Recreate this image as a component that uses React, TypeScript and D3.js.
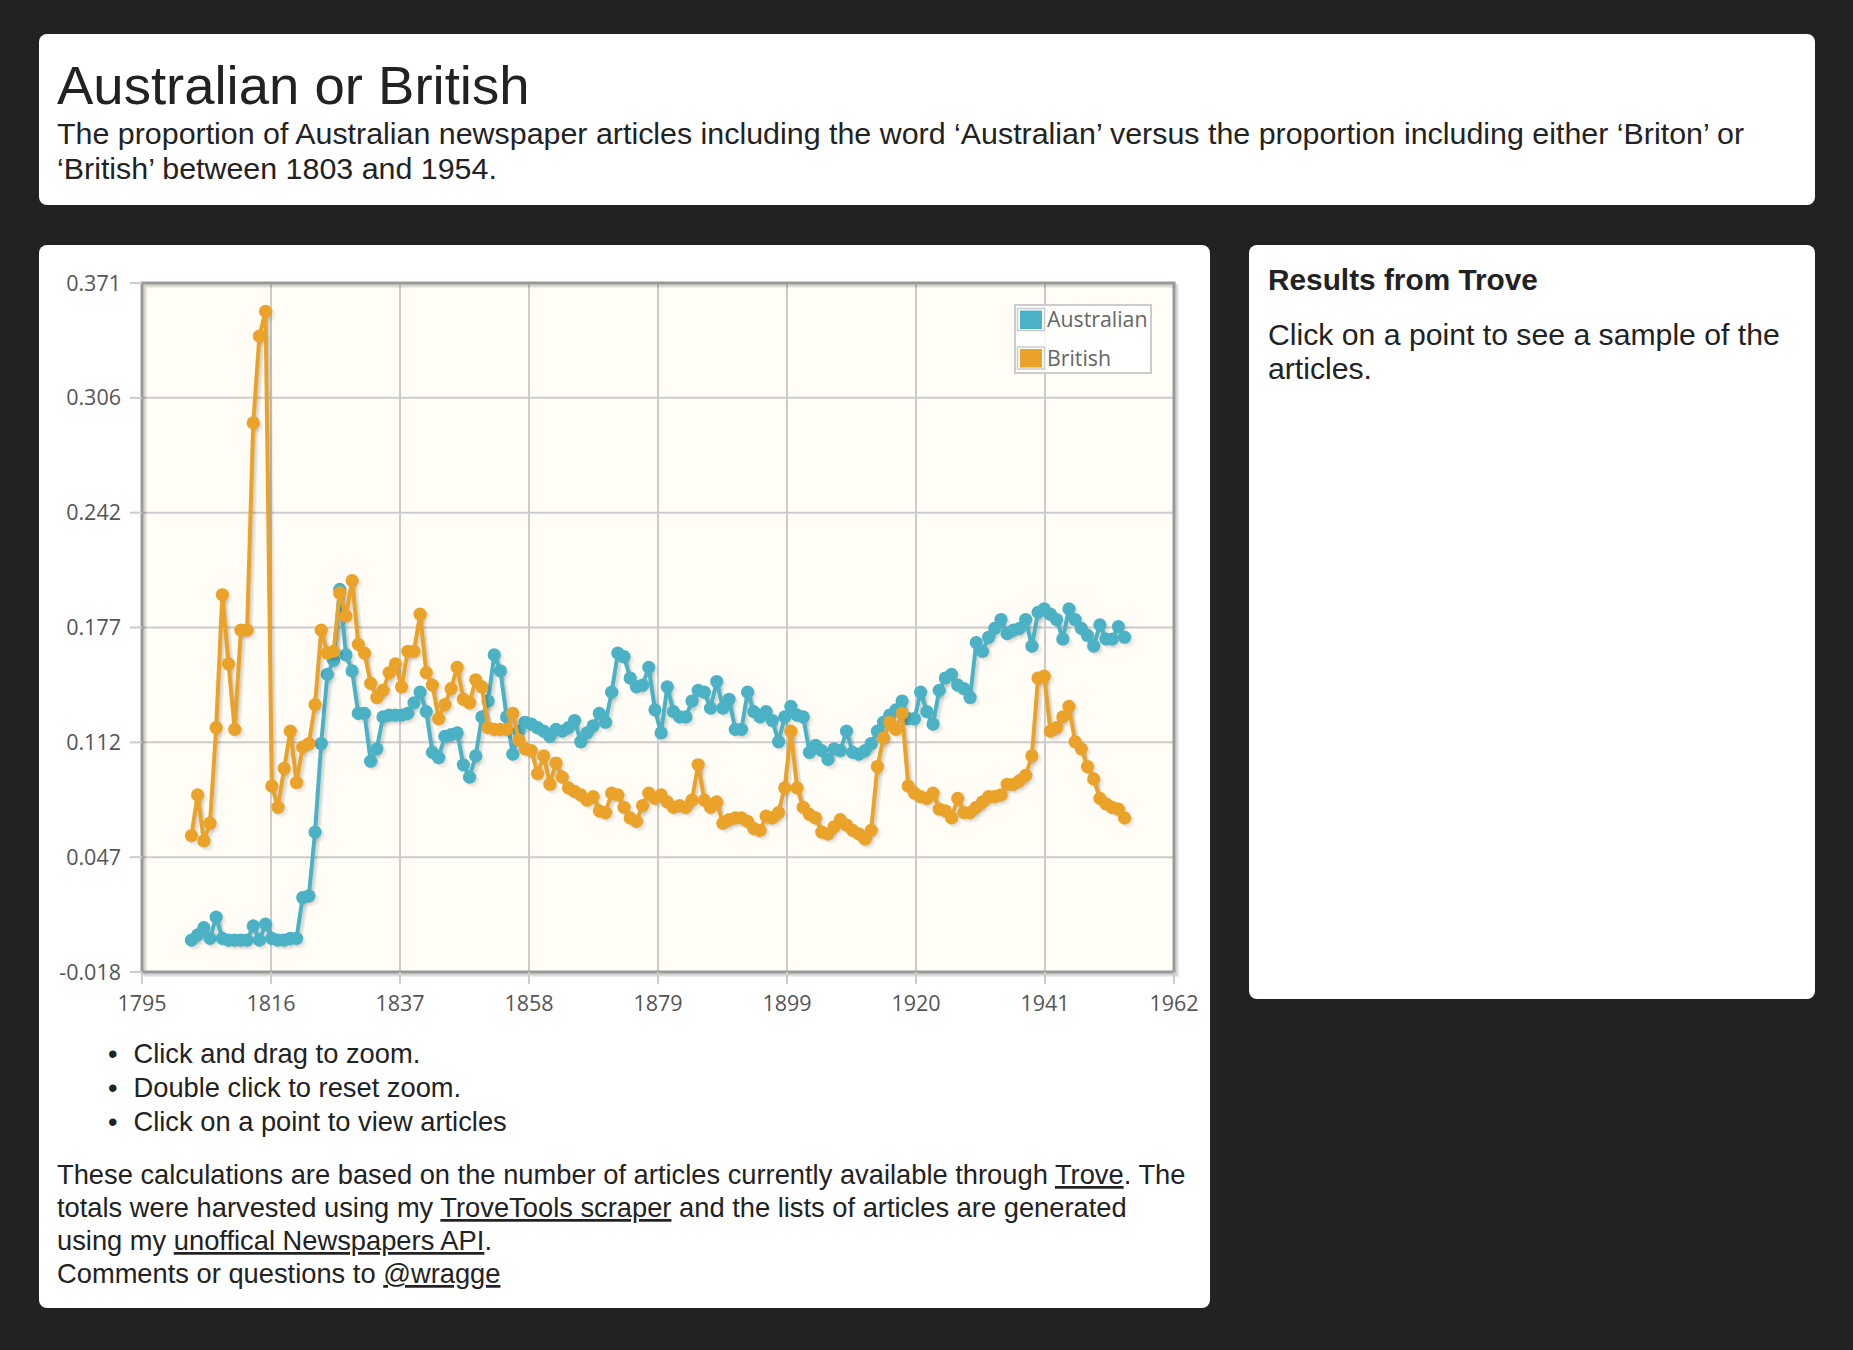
import React from "react";
import * as d3 from "d3";

// ---------- DATA ----------
const years: number[] = d3.range(1803, 1955);

// proportion of articles including 'Australian'
const australian: number[] = [
  0.000, 0.003, 0.007, 0.001, 0.013, 0.001, 0.000, 0.000, 0.000, 0.000, // 1803-1812
  0.008, 0.000, 0.009, 0.001, 0.000, 0.000, 0.001, 0.001, 0.024, 0.025, // 1813-1822
  0.061, 0.111, 0.150, 0.158, 0.198, 0.161, 0.152, 0.128, 0.128, 0.101, // 1823-1832
  0.108, 0.126, 0.127, 0.127, 0.127, 0.128, 0.134, 0.140, 0.129, 0.106, // 1833-1842
  0.103, 0.115, 0.116, 0.117, 0.099, 0.092, 0.104, 0.126, 0.135, 0.161, // 1843-1852
  0.152, 0.126, 0.105, 0.118, 0.123, 0.122, 0.120, 0.118, 0.115, 0.119, // 1853-1862
  0.118, 0.120, 0.124, 0.112, 0.117, 0.121, 0.128, 0.123, 0.140, 0.162, // 1863-1872
  0.160, 0.148, 0.143, 0.144, 0.154, 0.130, 0.117, 0.143, 0.129, 0.126, // 1873-1882
  0.126, 0.135, 0.141, 0.140, 0.131, 0.146, 0.131, 0.136, 0.119, 0.119, // 1883-1892
  0.140, 0.129, 0.126, 0.129, 0.124, 0.112, 0.126, 0.132, 0.127, 0.126, // 1893-1902
  0.106, 0.110, 0.107, 0.102, 0.108, 0.107, 0.118, 0.106, 0.105, 0.107, // 1903-1912
  0.111, 0.118, 0.123, 0.127, 0.130, 0.135, 0.125, 0.125, 0.140, 0.129, // 1913-1922
  0.122, 0.141, 0.148, 0.150, 0.144, 0.142, 0.137, 0.168, 0.163, 0.171, // 1923-1932
  0.176, 0.181, 0.173, 0.175, 0.176, 0.181, 0.166, 0.185, 0.187, 0.184, // 1933-1942
  0.181, 0.170, 0.187, 0.181, 0.176, 0.172, 0.166, 0.178, 0.170, 0.170, // 1943-1952
  0.177, 0.171, // 1953-1954
];

// proportion of articles including 'Briton' or 'British'
const british: number[] = [
  0.059, 0.082, 0.056, 0.066, 0.120, 0.195, 0.156, 0.119, 0.175, 0.175, // 1803-1812
  0.292, 0.341, 0.355, 0.087, 0.075, 0.097, 0.118, 0.089, 0.109, 0.111, // 1813-1822
  0.133, 0.175, 0.162, 0.163, 0.196, 0.183, 0.203, 0.167, 0.162, 0.145, // 1823-1832
  0.137, 0.141, 0.151, 0.156, 0.143, 0.163, 0.163, 0.184, 0.151, 0.144, // 1833-1842
  0.125, 0.133, 0.142, 0.154, 0.136, 0.134, 0.147, 0.143, 0.120, 0.119, // 1843-1852
  0.119, 0.119, 0.128, 0.113, 0.108, 0.107, 0.094, 0.104, 0.088, 0.100, // 1853-1862
  0.092, 0.086, 0.084, 0.082, 0.079, 0.081, 0.073, 0.072, 0.083, 0.082, // 1863-1872
  0.075, 0.069, 0.067, 0.076, 0.083, 0.080, 0.082, 0.078, 0.075, 0.076, // 1873-1882
  0.075, 0.079, 0.099, 0.079, 0.075, 0.078, 0.066, 0.068, 0.069, 0.069, // 1883-1892
  0.067, 0.063, 0.062, 0.070, 0.069, 0.072, 0.086, 0.118, 0.086, 0.075, // 1893-1902
  0.071, 0.069, 0.061, 0.060, 0.064, 0.068, 0.065, 0.062, 0.060, 0.057, // 1903-1912
  0.062, 0.098, 0.114, 0.123, 0.119, 0.128, 0.087, 0.083, 0.081, 0.080, // 1913-1922
  0.083, 0.074, 0.073, 0.069, 0.080, 0.072, 0.072, 0.075, 0.078, 0.081, // 1923-1932
  0.081, 0.082, 0.088, 0.088, 0.090, 0.093, 0.104, 0.148, 0.149, 0.118, // 1933-1942
  0.120, 0.126, 0.132, 0.112, 0.108, 0.098, 0.091, 0.080, 0.077, 0.075, // 1943-1952
  0.074, 0.069, // 1953-1954
];

const seriesNames = ["Australian", "British"];
const seriesColors = ["#4bb2c5", "#EAA228"];

const xTickLabels = ["1795", "1816", "1837", "1858", "1879", "1899", "1920", "1941", "1962"];
const yTickLabels = ["-0.018", "0.047", "0.112", "0.177", "0.242", "0.306", "0.371"];
const xDomain: [number, number] = [1795, 1962];
const yDomain: [number, number] = [-0.018, 0.371];

// ---------- LAYOUT ----------
const W = 1853;
const H = 1350;
const plot = { left: 142, right: 1174, top: 283, bottom: 972 };
const SANS = "'Liberation Sans', Arial, Helvetica, sans-serif";
const TICKFONT = "'Open Sans', 'DejaVu Sans', sans-serif";

function Chart() {
  const x = d3.scaleLinear().domain(xDomain).range([plot.left, plot.right]);
  const y = d3.scaleLinear().domain(yDomain).range([plot.bottom, plot.top]);

  const xTickPos = xTickLabels.map((_, i) =>
    x(xDomain[0] + (i * (xDomain[1] - xDomain[0])) / (xTickLabels.length - 1))
  );
  const yTickPos = yTickLabels.map((_, i) =>
    y(yDomain[0] + (i * (yDomain[1] - yDomain[0])) / (yTickLabels.length - 1))
  );

  const line = d3
    .line<number>()
    .x((_, i) => x(years[i]))
    .y((d) => y(d));

  const series = [australian, british];

  return (
    <g>
      {/* plot background */}
      <rect x={plot.left} y={plot.top} width={plot.right - plot.left} height={plot.bottom - plot.top} fill="#fffdf6" />
      {/* grid lines */}
      {xTickPos.slice(1, -1).map((px, i) => (
        <line key={"gx" + i} x1={px} x2={px} y1={plot.top} y2={plot.bottom} stroke="#cccccc" strokeWidth={2} />
      ))}
      {yTickPos.slice(1, -1).map((py, i) => (
        <line key={"gy" + i} x1={plot.left} x2={plot.right} y1={py} y2={py} stroke="#cccccc" strokeWidth={2} />
      ))}
      {/* border shadow */}
      {[1, 2, 3].map((k) => (
        <rect
          key={"bs" + k}
          x={plot.left + k * 1.2}
          y={plot.top + k * 1.2}
          width={plot.right - plot.left}
          height={plot.bottom - plot.top}
          fill="none"
          stroke="rgba(0,0,0,0.07)"
          strokeWidth={3}
        />
      ))}
      <rect x={plot.left} y={plot.top} width={plot.right - plot.left} height={plot.bottom - plot.top} fill="none" stroke="#999999" strokeWidth={3} />
      {/* ticks */}
      {xTickPos.map((px, i) => (
        <line key={"tx" + i} x1={px} x2={px} y1={plot.bottom} y2={plot.bottom + 12} stroke="#cccccc" strokeWidth={2} />
      ))}
      {yTickPos.map((py, i) => (
        <line key={"ty" + i} x1={plot.left - 12} x2={plot.left} y1={py} y2={py} stroke="#cccccc" strokeWidth={2} />
      ))}
      {/* tick labels */}
      {xTickLabels.map((t, i) => (
        <text key={"lx" + i} x={xTickPos[i]} y={1011} textAnchor="middle" fontFamily={TICKFONT} fontSize={21.5} fill="#555555">
          {t}
        </text>
      ))}
      {yTickLabels.map((t, i) => (
        <text key={"ly" + i} x={121} y={yTickPos[i]} dy="0.35em" textAnchor="end" fontFamily={TICKFONT} fontSize={21.5} fill="#555555">
          {t}
        </text>
      ))}
      {/* series */}
      <defs>
        <clipPath id="plotclip">
          <rect x={plot.left} y={plot.top - 20} width={plot.right - plot.left} height={plot.bottom - plot.top + 20} />
        </clipPath>
      </defs>
      <g clipPath="url(#plotclip)">
        {series.map((s, si) => (
          <g key={"s" + si}>
            {[1, 2, 3].map((k) => (
              <path
                key={"ls" + k}
                d={line(s) || ""}
                transform={`translate(${k * 1.3},${k * 1.3})`}
                fill="none"
                stroke="rgba(0,0,0,0.06)"
                strokeWidth={4}
                strokeLinejoin="round"
              />
            ))}
            {s.map((v, i) =>
              [1, 2, 3].map((k) => (
                <circle key={"ms" + i + "_" + k} cx={x(years[i]) + k * 1.3} cy={y(v) + k * 1.3} r={6.6} fill="rgba(0,0,0,0.035)" />
              ))
            )}
            <path d={line(s) || ""} fill="none" stroke={seriesColors[si]} strokeWidth={4} strokeLinejoin="round" />
            {s.map((v, i) => (
              <circle key={"m" + i} cx={x(years[i])} cy={y(v)} r={6.6} fill={seriesColors[si]} />
            ))}
          </g>
        ))}
      </g>
      {/* legend */}
      <g>
        <rect x={1015} y={305} width={136} height={68} fill="#ffffff" fillOpacity={0.85} stroke="#cccccc" strokeWidth={2} />
        {seriesNames.map((name, i) => (
          <g key={"lg" + i} transform={`translate(0,${i * 38.5})`}>
            <rect x={1017.5} y={308.5} width={27} height={22} fill="none" stroke="#cccccc" strokeWidth={1.5} />
            <rect x={1020} y={310.5} width={22} height={18.5} fill={seriesColors[i]} />
            <text x={1047} y={327} fontFamily={TICKFONT} fontSize={21.3} fill="#666666">
              {name}
            </text>
          </g>
        ))}
      </g>
    </g>
  );
}

export default function App() {
  const u = { textDecoration: "underline" } as React.CSSProperties;
  return (
    <div style={{ position: "fixed", left: 0, top: 0, width: W, height: H, background: "#222222" }}>
      <svg width={W} height={H} viewBox={`0 0 ${W} ${H}`} style={{ display: "block" }}>
        <rect x={0} y={0} width={W} height={H} fill="#222222" />
        {/* header panel */}
        <rect x={39} y={34} width={1776} height={171} rx={8} fill="#ffffff" />
        <text x={57} y={104} fontFamily={SANS} fontSize={54.5} fill="#222222">
          Australian or British
        </text>
        <text x={57} y={144} fontFamily={SANS} fontSize={30.4} fill="#222222">
          The proportion of Australian newspaper articles including the word ‘Australian’ versus the proportion including either ‘Briton’ or
        </text>
        <text x={57} y={179} fontFamily={SANS} fontSize={30.4} fill="#222222">
          ‘British’ between 1803 and 1954.
        </text>

        {/* chart panel */}
        <rect x={39} y={245} width={1171} height={1063} rx={8} fill="#ffffff" />
        <Chart />
        <g fontFamily={SANS} fontSize={27.3} fill="#222222">
          <text x={108} y={1063}>•</text>
          <text x={133.5} y={1063}>Click and drag to zoom.</text>
          <text x={108} y={1097}>•</text>
          <text x={133.5} y={1097}>Double click to reset zoom.</text>
          <text x={108} y={1131}>•</text>
          <text x={133.5} y={1131}>Click on a point to view articles</text>
          <text x={57} y={1184}>
            These calculations are based on the number of articles currently available through <tspan style={u}>Trove</tspan>. The
          </text>
          <text x={57} y={1217}>
            totals were harvested using my <tspan style={u}>TroveTools scraper</tspan> and the lists of articles are generated
          </text>
          <text x={57} y={1250}>
            using my <tspan style={u}>unoffical Newspapers API</tspan>.
          </text>
          <text x={57} y={1283}>
            Comments or questions to <tspan style={u}>@wragge</tspan>
          </text>
        </g>

        {/* sidebar panel */}
        <rect x={1249} y={245} width={566} height={754} rx={8} fill="#ffffff" />
        <text x={1268} y={290} fontFamily={SANS} fontSize={29.8} fontWeight="bold" fill="#222222">
          Results from Trove
        </text>
        <text x={1268} y={345} fontFamily={SANS} fontSize={30.2} fill="#222222">
          Click on a point to see a sample of the
        </text>
        <text x={1268} y={379} fontFamily={SANS} fontSize={30.2} fill="#222222">
          articles.
        </text>
      </svg>
    </div>
  );
}
